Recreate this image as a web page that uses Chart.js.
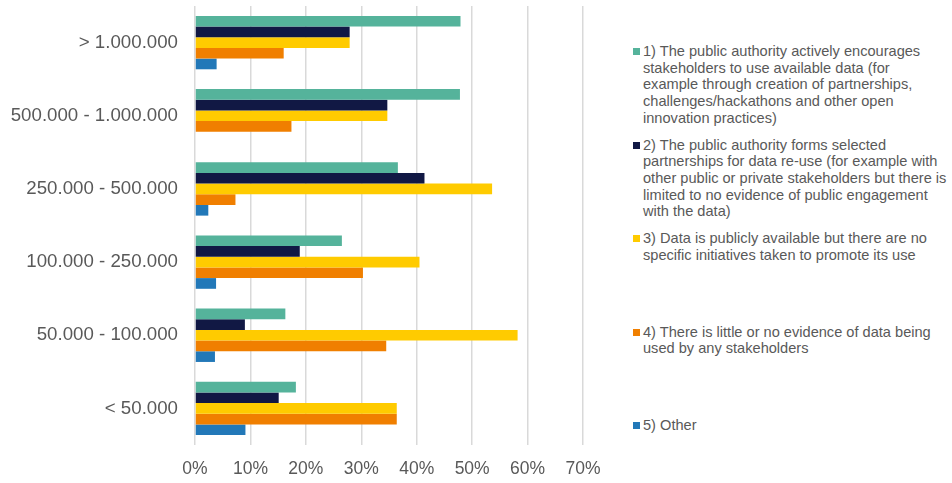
<!DOCTYPE html>
<html>
<head>
<meta charset="utf-8">
<script src="https://cdn.jsdelivr.net/npm/chart.js@4.4.1/dist/chart.umd.min.js"></script>
<style>
  body { margin: 0; background: #fff; }
  .wrap { position: relative; width: 952px; height: 483px; }
  .chart-box { position: absolute; left: 0; top: 0; width: 610px; height: 483px; }
  .legend { position: absolute; left: 633px; top: 43px; width: 318px;
            font-family: "Liberation Sans", Arial, sans-serif; font-size: 14.6px;
            line-height: 16.7px; color: #595959; }
  .legend .item { height: 93.5px; display: flex; align-items: flex-start; }
  .legend .swatch { width: 7px; height: 7px; margin-top: 5px; margin-right: 3px; flex: none; }
  .legend .text { white-space: nowrap; }
</style>
</head>
<body>
<div class="wrap">
  <div class="chart-box"><canvas id="chart"></canvas></div>
  <div class="legend" id="legend"></div>
</div>
<script>
const categories = ['> 1.000.000', '500.000 - 1.000.000', '250.000 - 500.000', '100.000 - 250.000', '50.000 - 100.000', '< 50.000'];

const seriesNames = [
  ['1) The public authority actively encourages', 'stakeholders to use available data (for', 'example through creation of partnerships,', 'challenges/hackathons and other open', 'innovation practices)'],
  ['2) The public authority forms selected', 'partnerships for data re-use (for example with', 'other public or private stakeholders but there is', 'limited to no evidence of public engagement', 'with the data)'],
  ['3) Data is publicly available but there are no', 'specific initiatives taken to promote its use'],
  ['4) There is little or no evidence of data being', 'used by any stakeholders'],
  ['5) Other']
];
const seriesColors = ['#55b39b', '#111844', '#ffcb00', '#f07f00', '#2278b8'];

const encourages = [47.9, 47.8, 36.6, 26.5, 16.3, 18.2];
const partnerships = [27.9, 34.7, 41.4, 18.9, 9.0, 15.1];
const available = [27.9, 34.7, 53.6, 40.5, 58.2, 36.4];
const noEvidence = [16.0, 17.4, 7.3, 30.3, 34.5, 36.4];
const other = [3.9, 0, 2.4, 3.8, 3.6, 9.1];

const xTicks = [0, 10, 20, 30, 40, 50, 60, 70];

const allSeries = [encourages, partnerships, available, noEvidence, other];

// legend on the right, Excel style with wrapped lines
const legendEl = document.getElementById('legend');
seriesNames.forEach((lines, i) => {
    const item = document.createElement('div');
    item.className = 'item';
    const sw = document.createElement('span');
    sw.className = 'swatch';
    sw.style.background = seriesColors[i];
    const txt = document.createElement('div');
    txt.className = 'text';
    lines.forEach((line, j) => {
        if (j > 0) txt.appendChild(document.createElement('br'));
        txt.appendChild(document.createTextNode(line));
    });
    item.appendChild(sw);
    item.appendChild(txt);
    legendEl.appendChild(item);
});

const ctx = document.getElementById('chart').getContext('2d');
new Chart(ctx, {
    type: 'bar',
    data: {
        labels: categories,
        datasets: allSeries.map((values, i) => ({
            label: seriesNames[i].join(' '),
            data: values,
            backgroundColor: seriesColors[i],
            borderWidth: 0,
            barPercentage: 1,
            categoryPercentage: 0.73
        }))
    },
    options: {
        indexAxis: 'y',
        responsive: true,
        maintainAspectRatio: false,
        animation: false,
        layout: {
            padding: { top: 6, right: 27, bottom: 0, left: 0 }
        },
        plugins: {
            legend: { display: false },
            tooltip: { enabled: false }
        },
        scales: {
            x: {
                min: 0,
                max: 70,
                afterBuildTicks: function(scale) {
                    scale.ticks = xTicks.map(v => ({ value: v }));
                },
                afterFit: function(scale) {
                    scale.height = 38;
                    scale.paddingLeft = 0;
                    scale.paddingRight = 0;
                    scale.paddingTop = 0;
                    scale.paddingBottom = 0;
                },
                ticks: {
                    padding: 14,
                    color: '#595959',
                    font: { family: '"Liberation Sans", Arial, sans-serif', size: 17.5 },
                    callback: function(value) { return value + '%'; }
                },
                grid: {
                    color: '#d9d9d9',
                    lineWidth: 1.5,
                    drawTicks: false
                },
                border: { display: false }
            },
            y: {
                afterFit: function(scale) {
                    scale.width = 195;
                    scale.paddingTop = 0;
                    scale.paddingBottom = 0;
                },
                ticks: {
                    padding: 17,
                    color: '#595959',
                    font: { family: '"Liberation Sans", Arial, sans-serif', size: 18.7 }
                },
                grid: { display: false, drawTicks: false },
                border: { display: false }
            }
        }
    }
});
</script>
</body>
</html>
